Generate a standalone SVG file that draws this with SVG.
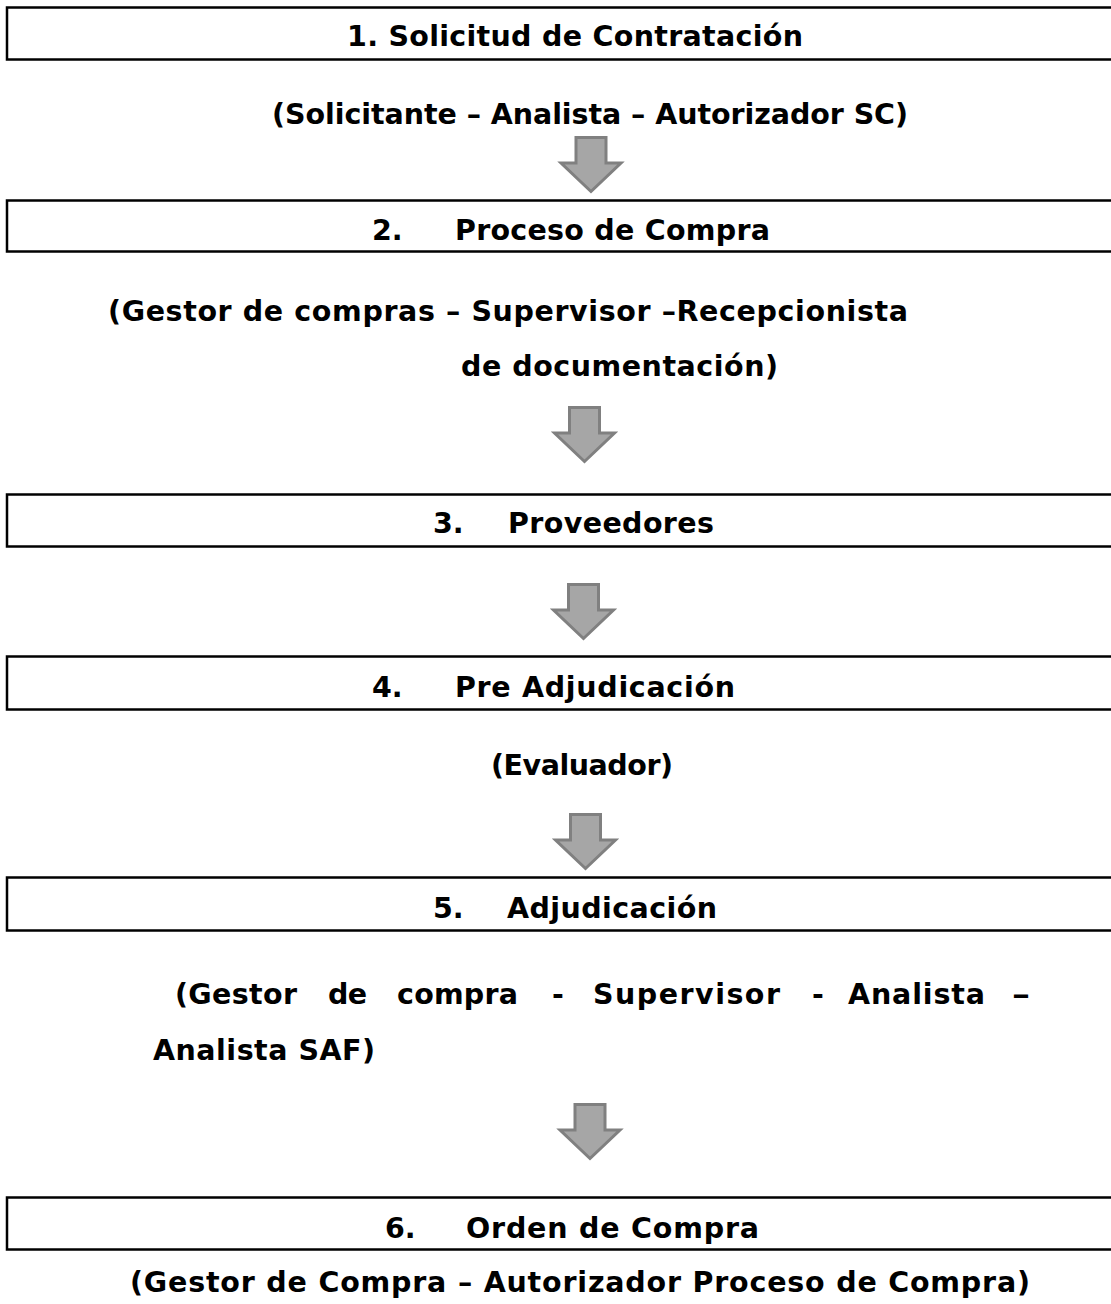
<svg xmlns="http://www.w3.org/2000/svg" width="1111" height="1304" viewBox="0 0 1111 1304">
<style>
.box{fill:#fff;stroke:#000;stroke-width:2.5}
.t{font-family:"DejaVu Sans",Verdana,sans-serif;font-weight:bold;font-size:28.5px;fill:#000}
.arr{fill:#a6a6a6;stroke:#808080;stroke-width:3;stroke-linejoin:miter}
</style>
<defs>
<path id="ar" class="arr" d="M-15,1.5 H15 V27 H30 L0,55.5 L-30,27 H-15 Z"/>
</defs>
<rect width="1111" height="1304" fill="#fff"/>
<g id="connectors">
<use href="#ar" transform="translate(591,136)"/>
<use href="#ar" transform="translate(584.5,406)"/>
<use href="#ar" transform="translate(583.5,583)"/>
<use href="#ar" transform="translate(585.5,813)"/>
<use href="#ar" transform="translate(590,1103)"/>
</g>
<g id="node1">
<rect class="box" x="7" y="7.5" width="1120" height="52"/>
<text class="t" x="347" y="46" textLength="456" lengthAdjust="spacing">1. Solicitud de Contratación</text>
<text class="t" x="272" y="124" textLength="636" lengthAdjust="spacing">(Solicitante – Analista – Autorizador SC)</text>
</g>
<g id="node2">
<rect class="box" x="7" y="200.5" width="1120" height="51"/>
<text class="t" x="372" y="240">2.</text>
<text class="t" x="455" y="240" textLength="315" lengthAdjust="spacing">Proceso de Compra</text>
<text class="t" x="108" y="321" textLength="800" lengthAdjust="spacing">(Gestor de compras – Supervisor –Recepcionista</text>
<text class="t" x="461" y="376" textLength="317" lengthAdjust="spacing">de documentación)</text>
</g>
<g id="node3">
<rect class="box" x="7" y="494.5" width="1120" height="52"/>
<text class="t" x="433" y="533">3.</text>
<text class="t" x="508" y="533" textLength="206" lengthAdjust="spacing">Proveedores</text>
</g>
<g id="node4">
<rect class="box" x="7" y="656.5" width="1120" height="53"/>
<text class="t" x="372" y="697">4.</text>
<text class="t" x="455" y="697" textLength="280" lengthAdjust="spacing">Pre Adjudicación</text>
<text class="t" x="491" y="775" textLength="182" lengthAdjust="spacing">(Evaluador)</text>
</g>
<g id="node5">
<rect class="box" x="7" y="877.5" width="1120" height="53"/>
<text class="t" x="433" y="918">5.</text>
<text class="t" x="507" y="918" textLength="210" lengthAdjust="spacing">Adjudicación</text>
<text class="t" x="175" y="1004" textLength="122" lengthAdjust="spacing">(Gestor</text>
<text class="t" x="328" y="1004" textLength="39" lengthAdjust="spacing">de</text>
<text class="t" x="397" y="1004" textLength="121" lengthAdjust="spacing">compra</text>
<text class="t" x="552" y="1004">-</text>
<text class="t" x="593" y="1004" textLength="187" lengthAdjust="spacing">Supervisor</text>
<text class="t" x="812" y="1004">-</text>
<text class="t" x="848" y="1004" textLength="137" lengthAdjust="spacing">Analista</text>
<text class="t" x="1012" y="1004" textLength="18" lengthAdjust="spacingAndGlyphs">–</text>
<text class="t" x="153" y="1060" textLength="222" lengthAdjust="spacing">Analista SAF)</text>
</g>
<g id="node6">
<rect class="box" x="7" y="1197.5" width="1120" height="52"/>
<text class="t" x="385" y="1238">6.</text>
<text class="t" x="466" y="1238" textLength="293" lengthAdjust="spacing">Orden de Compra</text>
<text class="t" x="130" y="1292" textLength="900" lengthAdjust="spacing">(Gestor de Compra – Autorizador Proceso de Compra)</text>
</g>
</svg>
